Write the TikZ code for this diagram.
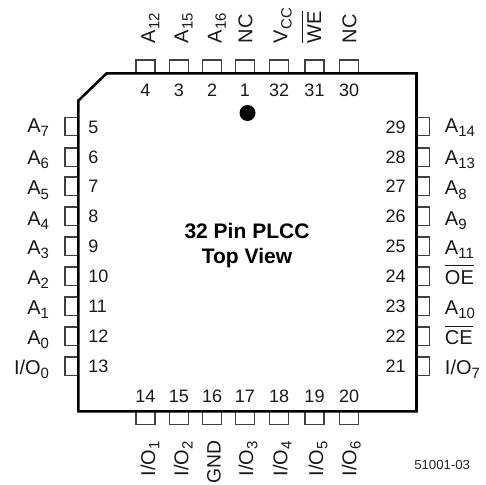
\documentclass[tikz,border=0pt]{standalone}
\usepackage{fontspec}
\setmainfont{Liberation Sans}
\newcommand{\lblfont}{\fontsize{15pt}{18pt}\selectfont}
\newcommand{\gndfont}{\fontsize{14.5pt}{18pt}\selectfont}
\newcommand{\numfont}{\fontsize{13.5pt}{16pt}\selectfont}
\newcommand{\ttlfont}{\fontsize{15.75pt}{19pt}\selectfont\bfseries}
\newcommand{\sbs}[1]{\raisebox{-3.2pt}{\fontsize{11.2pt}{12pt}\selectfont #1}}
\newsavebox{\ovbox}
\newcommand{\ovl}[1]{\sbox{\ovbox}{#1}\leavevmode\rlap{\rule[13.4pt]{\wd\ovbox}{0.75pt}}\usebox{\ovbox}}
\tikzset{
  x=0.75pt, y=-0.75pt,
  body/.style={draw=black, line width=1.9pt, line join=miter},
  pin/.style={draw=black!75, line width=0.85pt, fill=white},
  num/.style={font=\numfont, inner sep=0pt, text=black!90},
  lblL/.style={font=\lblfont, inner sep=0pt, anchor=base east, text=black!90},
  lblR/.style={font=\lblfont, inner sep=0pt, anchor=base west, text=black!90},
  lblT/.style={font=\lblfont, inner sep=0pt, anchor=base west, rotate=90, text=black!90},
  lblB/.style={font=\lblfont, inner sep=0pt, anchor=base east, rotate=90, text=black!90},
  title/.style={font=\ttlfont, inner sep=0pt, anchor=base, text=black},
}
\begin{document}
\begin{tikzpicture}
\useasboundingbox (0,0) rectangle (486,485);
% pins, top and bottom
\foreach \xa in {136,169.3,202.7,235.5,269.7,305,339.7} {
  \draw[pin] (\xa,60) rectangle ++(19,13.5);
  \draw[pin] (\xa,411) rectangle ++(19,13.7);
}
% pins, left and right
\foreach \ya in {117.3,148,177,207,237,267,297,327,357} {
  \draw[pin] (65,\ya) rectangle ++(13.5,18.3);
  \draw[pin] (416,\ya) rectangle ++(13.7,18.3);
}
% package body
\draw[body] (106.7,73.3) -- (416.5,73.3) -- (416.5,411.3) -- (78.3,411.3) -- (78.3,100.7) -- cycle;
\fill[black] (247.5,113) circle (8);
% top numbers and labels
\foreach \nm/\xa in {4/145.5,3/178.8,2/212.2,1/245,32/279.2,31/314.5,30/349.2} {
  \node[num] (n\nm) at (\xa,90) {\nm};
}
\node[lblT] (l4) at (155,43.3) {A\sbs{12}};
\node[lblT] (l3) at (188.3,43.3) {A\sbs{15}};
\node[lblT] (l2) at (221.7,43.3) {A\sbs{16}};
\node[lblT] (l1) at (252.3,43.3) {NC};
\node[lblT] (l32) at (287.3,43.3) {V\sbs{CC}};
\node[lblT] (l31) at (321,43.3) {\ovl{WE}};
\node[lblT] (l30) at (356.3,43.3) {NC};
% bottom numbers and labels
\foreach \nm/\xa in {14/145.5,15/178.8,16/212.2,17/245,18/279.2,19/314.5,20/349.2} {
  \node[num] (n\nm) at (\xa,396) {\nm};
}
\node[lblB] (l14) at (155,441) {I/O\sbs{1}};
\node[lblB] (l15) at (188.3,441) {I/O\sbs{2}};
\node[lblB,font=\gndfont] (l16) at (220.7,440.5) {GND};
\node[lblB] (l17) at (253,441) {I/O\sbs{3}};
\node[lblB] (l18) at (287.3,441) {I/O\sbs{4}};
\node[lblB] (l19) at (323,441) {I/O\sbs{5}};
\node[lblB] (l20) at (356.3,441) {I/O\sbs{6}};
% left numbers
\foreach \nm/\ya in {5/127,6/157,7/186,8/216,9/246,10/276,11/306,12/336,13/366} {
  \node[num,anchor=west] (n\nm) at (88,\ya) {\nm};
}
% right numbers
\foreach \nm/\ya in {29/127,28/157,27/186,26/216,25/246,24/276,23/306,22/336,21/366} {
  \node[num,anchor=east] (n\nm) at (406,\ya) {\nm};
}
% left labels
\node[lblL] (l5) at (49.3,132.3) {A\sbs{7}};
\node[lblL] (l6) at (49.3,164.3) {A\sbs{6}};
\node[lblL] (l7) at (49.3,195) {A\sbs{5}};
\node[lblL] (l8) at (49.3,225.3) {A\sbs{4}};
\node[lblL] (l9) at (49.3,254.5) {A\sbs{3}};
\node[lblL] (l10) at (49.3,284.7) {A\sbs{2}};
\node[lblL] (l11) at (49.3,314) {A\sbs{1}};
\node[lblL] (l12) at (49.3,344.7) {A\sbs{0}};
\node[lblL] (l13) at (49.3,374.7) {I/O\sbs{0}};
% right labels
\node[lblR] (l29) at (444.7,132.3) {A\sbs{14}};
\node[lblR] (l28) at (444.7,164.3) {A\sbs{13}};
\node[lblR] (l27) at (444.7,195) {A\sbs{8}};
\node[lblR] (l26) at (444.7,225) {A\sbs{9}};
\node[lblR] (l25) at (444.7,254.5) {A\sbs{11}};
\node[lblR] (l24) at (444.7,284) {\ovl{OE}};
\node[lblR] (l23) at (444.7,314) {A\sbs{10}};
\node[lblR] (l22) at (444.7,344.7) {\ovl{CE}};
\node[lblR] (l21) at (444.7,374) {I/O\sbs{7}};
% title
\node[title] (t1) at (247,238) {32 Pin PLCC};
\node[title] (t2) at (247,263) {Top View};
\node[font=\fontsize{9.9pt}{12pt}\selectfont, inner sep=0pt, anchor=base west, text=black!85] (code) at (414,469.7) {51001-03};
\end{tikzpicture}
\end{document}
